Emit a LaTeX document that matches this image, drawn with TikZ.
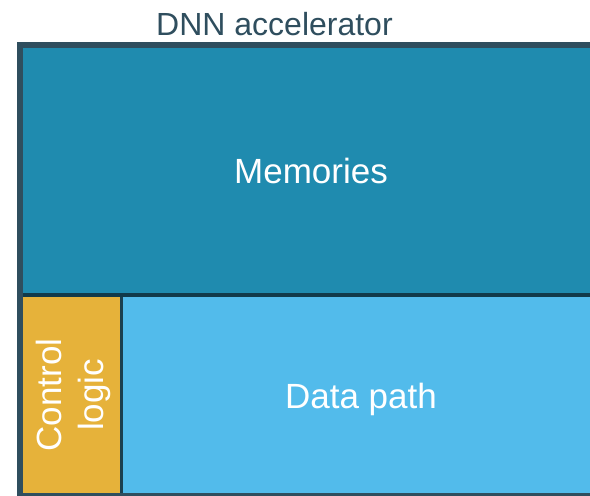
\documentclass[tikz,border=0pt]{standalone}
\usepackage{fontspec}
\setmainfont{Liberation Sans}
\definecolor{framecol}{HTML}{2F4E5E}
\definecolor{memcol}{HTML}{1F8BAF}
\definecolor{pathcol}{HTML}{52BBEB}
\definecolor{ctrlcol}{HTML}{E6B23A}
\definecolor{divcol}{HTML}{113A4A}
\tikzset{
  label text/.style={text=white, font=\fontsize{35}{42}\selectfont, inner sep=0pt},
  title text/.style={text=framecol, font=\fontsize{32}{38}\selectfont, inner sep=0pt}
}
\begin{document}
\begin{tikzpicture}[x=1pt,y=-1pt]
\useasboundingbox (0,0) rectangle (590,496);
\clip (0,0) rectangle (590,496);
% outer frame of the accelerator
\fill[framecol] (17,42) rectangle (610,500);
% memory block
\fill[memcol] (22.5,47.5) rectangle (600,293);
\fill[divcol] (22.5,293) rectangle (600,297);
% control logic and data path
\fill[ctrlcol] (22.5,297) rectangle (120,493);
\fill[divcol!70!framecol] (120,297) rectangle (123,493);
\fill[pathcol] (123,297) rectangle (600,493);
% labels
\node[title text, anchor=base] (title) at (274.5,35) {DNN accelerator};
\node[label text, anchor=base] (mem) at (311,183) {Memories};
\node[label text, anchor=base] (path) at (361,408) {Data path};
\node[label text, rotate=90, align=center] (ctrl) at (73,395) {Control\\logic};
\end{tikzpicture}
\end{document}
